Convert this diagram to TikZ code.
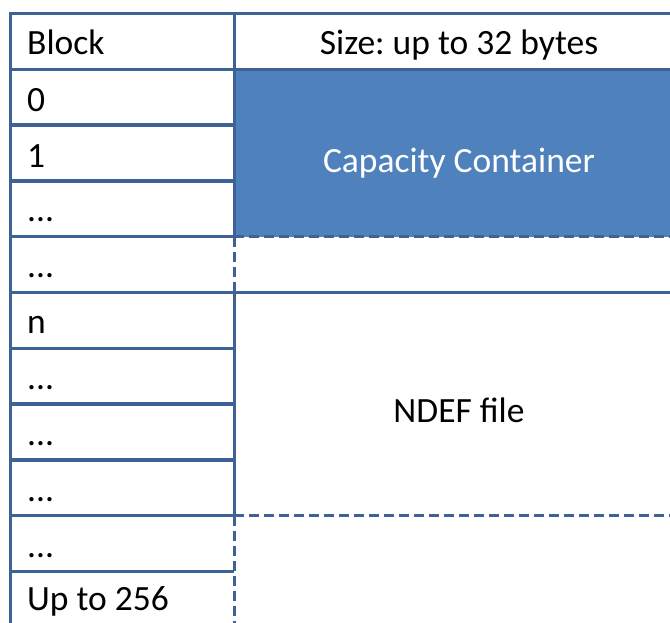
\documentclass[tikz,border=0pt]{standalone}
\usepackage{fontspec}
\setmainfont{Carlito}
\definecolor{gridline}{HTML}{3F6296}
\definecolor{ccfill}{HTML}{4F81BD}
\begin{document}
\frenchspacing
\begin{tikzpicture}[x=1pt,y=-1pt,
  solidline/.style={draw=gridline,line width=3.4pt},
  dashline/.style={draw=gridline,line width=3.4pt,dash pattern=on 10pt off 5pt},
  lbl/.style={anchor=base west,inner sep=0pt,font=\fontsize{35.5}{42}\selectfont},
  ctr/.style={anchor=base,inner sep=0pt,font=\fontsize{35.5}{42}\selectfont}]
\useasboundingbox (0,0) rectangle (670,622);
\begin{scope}
\clip (0,0) rectangle (670,622);
% blue capacity container
\fill[ccfill] (234.3,69.3) rectangle (690,236.7);
% left column horizontals
\foreach \y in {125.1,180.9,236.7,292.5,348.3,404.1,459.9,515.7,571.5}
  \draw[solidline] (10.7,\y) -- (234.3,\y);
% full-width lines
\draw[solidline] (10.7,13.3) -- (690,13.3);
\draw[solidline] (10.7,69.3) -- (690,69.3);
\draw[solidline] (234.3,292.5) -- (690,292.5);
\draw[dashline] (234.3,236.7) -- (690,236.7);
\draw[dashline] (234.3,515.7) -- (690,515.7);
% verticals
\draw[solidline] (10.7,11.6) -- (10.7,630);
\draw[solidline] (234.3,11.6) -- (234.3,236.7);
\draw[dashline] (234.3,236.7) -- (234.3,292.5);
\draw[solidline] (234.3,292.5) -- (234.3,515.7);
\draw[dashline] (234.3,515.7) -- (234.3,630);
\end{scope}
% texts
\node[lbl] (hb) at (27,54) {Block};
\node[ctr] (hs) at (459,54) {Size: up to 32 bytes};
\node[lbl] (r0) at (27,111) {0};
\node[lbl] (r1) at (27,167) {1};
\node[lbl] (r2) at (27,221) {...};
\node[lbl] (r3) at (27,277) {...};
\node[lbl] (r4) at (27,333) {n};
\node[lbl] (r5) at (27,389) {...};
\node[lbl] (r6) at (27,445) {...};
\node[lbl] (r7) at (27,501) {...};
\node[lbl] (r8) at (27,557) {...};
\node[lbl] (r9) at (27,610) {Up to 256};
\node[ctr,text=white] (cc) at (459,172) {Capacity Container};
\node[ctr] (nd) at (459,422) {NDEF file};
\end{tikzpicture}
\end{document}
